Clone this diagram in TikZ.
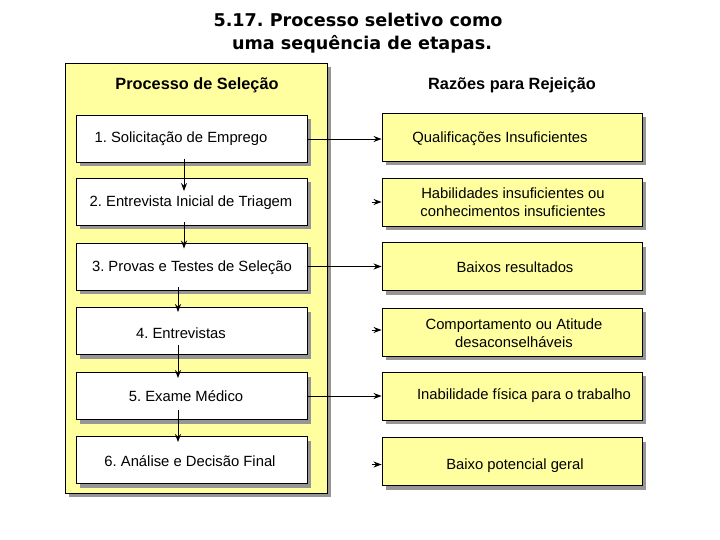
\documentclass[tikz,border=0pt]{standalone}
\usepackage{fontspec}
\setmainfont{Liberation Sans}
\newfontfamily\titlefont{DejaVu Sans}
\usetikzlibrary{shadows,calc,arrows.meta}
\definecolor{paleyellow}{RGB}{255,255,160}
\definecolor{shadowgray}{RGB}{150,150,150}
\frenchspacing
\tikzset{
  boxshadow/.style={general shadow={fill=shadowgray, shadow xshift=4pt, shadow yshift=-4pt}},
  panelbox/.style={draw=black, line width=0.9pt, fill=paleyellow, boxshadow, anchor=north west, inner sep=0pt},
  leftbox/.style={draw=black, line width=0.9pt, fill=white, boxshadow, minimum width=231pt, minimum height=47pt, inner sep=0pt},
  rightbox/.style={draw=black, line width=0.9pt, fill=paleyellow, boxshadow, minimum width=260pt, minimum height=48pt, inner sep=0pt},
  boxtext/.style={font=\fontsize{14.8}{18}\selectfont, align=center, inner sep=0pt},
  headtext/.style={font=\fontsize{16.3}{19}\selectfont\bfseries, inner sep=0pt},
  titletext/.style={font=\titlefont\bfseries\fontsize{17.6}{24}\selectfont, inner sep=0pt},
  arr/.style={line width=0.9pt, -{Stealth[length=8pt,width=6pt]}}
}
\begin{document}
\begin{tikzpicture}[x=1pt,y=-1pt]
\useasboundingbox[fill=white] (0,0) rectangle (720,540);
% title
\node[titletext] (t1) at (358,20) {5.17. Processo seletivo como};
\node[titletext] (t2) at (362,44) {uma sequência de etapas.};
% panel
\node[panelbox, minimum width=262pt, minimum height=430pt] (panel) at (65,63) {};
\node[headtext] (h1) at (197,85) {Processo de Seleção};
\node[headtext] (h2) at (512,85) {Razões para Rejeição};
% left boxes
\node[leftbox] (b1) at (191.5,139) {};
\node[leftbox] (b2) at (191.5,202) {};
\node[leftbox] (b3) at (191.5,266.5) {};
\node[leftbox] (b4) at (191.5,331) {};
\node[leftbox] (b5) at (191.5,396) {};
\node[leftbox] (b6) at (191.5,460) {};
\node[boxtext] (l1) at (181,139) {1. Solicitação de Emprego};
\node[boxtext] (l2) at (191,203) {2. Entrevista Inicial de Triagem};
\node[boxtext] (l3) at (192,268) {3. Provas e Testes de Seleção};
\node[boxtext] (l4) at (181,333) {4. Entrevistas};
\node[boxtext] (l5) at (186,396) {5. Exame Médico};
\node[boxtext] (l6) at (190,461) {6. Análise e Decisão Final};
% right boxes
\node[rightbox] (r1) at (512,137) {};
\node[rightbox] (r2) at (512,202) {};
\node[rightbox] (r3) at (512,266.5) {};
\node[rightbox] (r4) at (512,332) {};
\node[rightbox] (r5) at (512,396) {};
\node[rightbox] (r6) at (512,461.5) {};
\node[boxtext] (q1) at (500,139) {Qualificações Insuficientes};
\node[boxtext] (q2) at (513,202) {Habilidades insuficientes ou\\conhecimentos insuficientes};
\node[boxtext] (q3) at (515,267) {Baixos resultados};
\node[boxtext] (q4) at (514,333) {Comportamento ou Atitude\\desaconselháveis};
\node[boxtext] (q5) at (524,396) {Inabilidade física para o trabalho};
\node[boxtext] (q6) at (515,466) {Baixo potencial geral};
% vertical arrows
\draw[arr] ($(b1.south)+(-7.5,-4)$) -- ($(b2.north)+(-7.5,13)$);
\draw[arr] ($(b2.south)+(-7.5,-4)$) -- ($(b3.north)+(-7.5,6)$);
\draw[arr] ($(b3.south)+(-13.5,-3)$) -- ($(b4.north)+(-13.5,5)$);
\draw[arr] ($(b4.south)+(-13.5,-10)$) -- ($(b5.north)+(-13.5,6)$);
\draw[arr] ($(b5.south)+(-13.5,-10)$) -- ($(b6.north)+(-13.5,6)$);
% horizontal arrows
\draw[arr] (b1.east) -- (b1.east -| r1.west);
\draw[arr] (b3.east) -- (b3.east -| r3.west);
\draw[arr] (b5.east) -- (b5.east -| r5.west);
% stub arrowheads
\coordinate (s2) at ($(r2.west)+(-10,0)$);
\coordinate (s4) at ($(r4.west)+(-10,-2)$);
\coordinate (s6) at ($(r6.west)+(-10,3)$);
\draw[arr] (s2) -- (s2 -| r2.west);
\draw[arr] (s4) -- (s4 -| r4.west);
\draw[arr] (s6) -- (s6 -| r6.west);
\end{tikzpicture}
\end{document}
